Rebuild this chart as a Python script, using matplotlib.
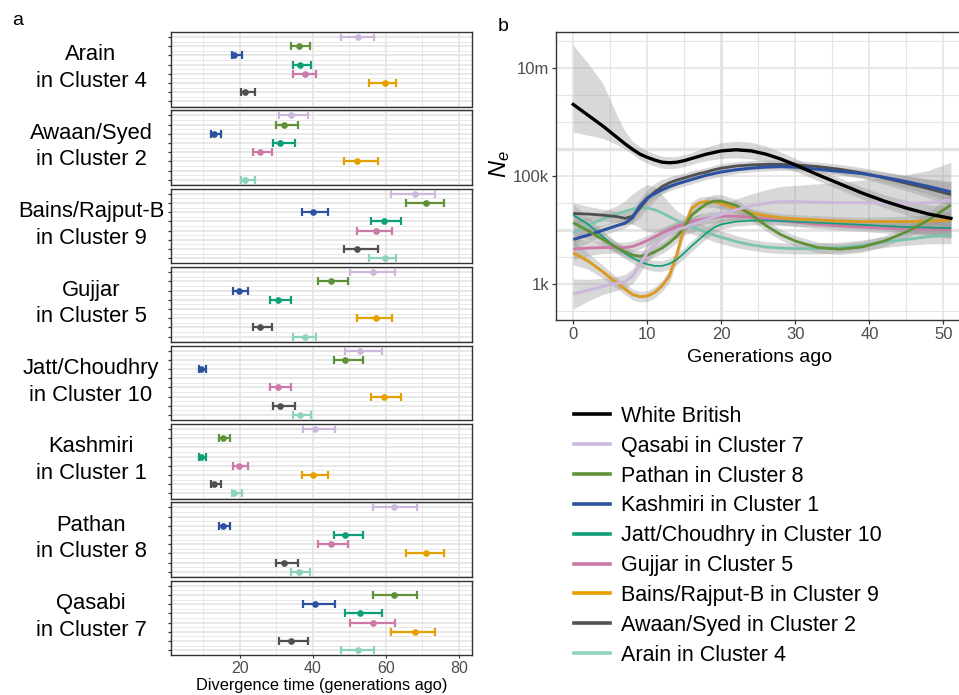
import numpy as np
import matplotlib
matplotlib.use("Agg")
import matplotlib.pyplot as plt
from matplotlib.lines import Line2D
from matplotlib.ticker import FixedLocator, NullFormatter

plt.rcParams['font.family'] = ['Liberation Sans', 'DejaVu Sans']
plt.rcParams['mathtext.fontset'] = 'custom'
plt.rcParams['mathtext.it'] = 'Liberation Sans:italic'
plt.rcParams['mathtext.rm'] = 'Liberation Sans'

W, H = 959, 695

# ---------------- panel a data ----------------
GROUPS = ['Qasabi', 'Pathan', 'Kashmiri', 'Jatt/Choudhry', 'Gujjar',
          'Bains/Rajput-B', 'Awaan/Syed', 'Arain']
CLUSTERS = [7, 8, 1, 10, 5, 9, 2, 4]
GROUP_COLORS = ['#CDB8DB', '#5F9139', '#2C51A1', '#0E9E78', '#CC79A7',
                '#E69F00', '#505050', '#8ED2BD']
FACETS = ['Arain', 'Awaan/Syed', 'Bains/Rajput-B', 'Gujjar', 'Jatt/Choudhry',
          'Kashmiri', 'Pathan', 'Qasabi']

PAIR_A = ['Qasabi'] * 7 + ['Pathan'] * 6 + ['Kashmiri'] * 5 + \
         ['Jatt/Choudhry'] * 4 + ['Gujjar'] * 3 + ['Bains/Rajput-B'] * 2 + ['Awaan/Syed']
PAIR_B = ['Pathan', 'Kashmiri', 'Jatt/Choudhry', 'Gujjar', 'Bains/Rajput-B', 'Awaan/Syed', 'Arain',
          'Kashmiri', 'Jatt/Choudhry', 'Gujjar', 'Bains/Rajput-B', 'Awaan/Syed', 'Arain',
          'Jatt/Choudhry', 'Gujjar', 'Bains/Rajput-B', 'Awaan/Syed', 'Arain',
          'Gujjar', 'Bains/Rajput-B', 'Awaan/Syed', 'Arain',
          'Bains/Rajput-B', 'Awaan/Syed', 'Arain',
          'Awaan/Syed', 'Arain',
          'Arain']
DIV_EST = [62.2, 40.7, 53.0, 56.4, 68.1, 33.9, 52.4,
           15.4, 48.8, 44.9, 71.1, 32.0, 36.1,
           9.4, 19.7, 39.9, 12.8, 18.5,
           30.5, 59.5, 30.9, 36.5,
           57.2, 25.4, 37.7,
           52.1, 59.7,
           21.5]
DIV_LO = [56.6, 37.4, 48.8, 50.2, 61.4, 30.8, 47.8,
          14.3, 45.8, 41.3, 65.5, 29.9, 33.9,
          8.7, 18.2, 37.1, 12.0, 17.7,
          28.3, 55.8, 29.1, 34.6,
          52.2, 23.5, 34.6,
          48.4, 55.5,
          20.2]
DIV_HI = [68.4, 46.1, 59.0, 62.5, 73.4, 38.7, 56.8,
          17.4, 53.8, 49.5, 75.9, 36.0, 39.1,
          10.6, 22.3, 44.0, 14.9, 20.6,
          34.1, 64.2, 35.1, 39.5,
          61.7, 28.9, 40.8,
          57.9, 62.7,
          24.2]

# ---------------- panel b data (log10 Ne) ----------------
GEN = [0, 2, 4, 6, 7, 8, 9, 10, 11, 12, 13, 14, 15, 16, 17, 18, 19, 20,
       22, 24, 26, 28, 30, 33, 36, 39, 42, 45, 48, 51]

NE_WB = [6.32, 6.12, 5.92, 5.70, 5.59, 5.49, 5.40, 5.34, 5.29, 5.25, 5.24, 5.25, 5.28, 5.32, 5.36,
         5.40, 5.43, 5.46, 5.48, 5.46, 5.40, 5.31, 5.20, 5.02, 4.85, 4.68, 4.53, 4.40, 4.29, 4.21]
NE_WB_HI = [7.42, 7.08, 6.71, 6.09, 5.82, 5.64, 5.53, 5.46, 5.40, 5.36, 5.35, 5.36, 5.39, 5.43, 5.48,
            5.53, 5.57, 5.61, 5.64, 5.62, 5.55, 5.44, 5.32, 5.13, 4.96, 4.79, 4.65, 4.54, 4.46, 4.42]
NE_WB_LO = [5.81, 5.75, 5.69, 5.57, 5.49, 5.40, 5.30, 5.23, 5.18, 5.14, 5.13, 5.14, 5.17, 5.21, 5.25,
            5.28, 5.30, 5.32, 5.33, 5.31, 5.26, 5.18, 5.08, 4.91, 4.74, 4.57, 4.41, 4.27, 4.14, 4.02]

NE_QASABI = [2.81, 2.88, 2.95, 3.01, 3.04, 3.14, 3.35, 3.58, 3.72, 3.84, 3.93, 3.99, 4.04, 4.09, 4.14,
             4.19, 4.24, 4.28, 4.37, 4.44, 4.49, 4.52, 4.52, 4.51, 4.50, 4.50, 4.49, 4.49, 4.50, 4.55]
NE_PATHAN = [4.13, 3.98, 3.82, 3.66, 3.59, 3.53, 3.51, 3.53, 3.59, 3.66, 3.76, 3.88, 4.05, 4.27, 4.38,
             4.48, 4.53, 4.53, 4.45, 4.28, 4.08, 3.91, 3.79, 3.67, 3.64, 3.68, 3.79, 3.96, 4.18, 4.46]
NE_KASHMIRI = [3.82, 3.90, 3.99, 4.08, 4.12, 4.22, 4.44, 4.59, 4.67, 4.74, 4.80, 4.85, 4.89, 4.93, 4.97,
               5.01, 5.04, 5.07, 5.11, 5.14, 5.16, 5.17, 5.16, 5.12, 5.08, 5.04, 4.97, 4.89, 4.80, 4.70]
NE_JATT = [4.27, 4.10, 3.87, 3.65, 3.56, 3.48, 3.41, 3.36, 3.33, 3.33, 3.37, 3.45, 3.57, 3.70, 3.82,
           3.94, 4.04, 4.10, 4.15, 4.17, 4.17, 4.16, 4.15, 4.13, 4.11, 4.09, 4.07, 4.05, 4.04, 4.03]
NE_GUJJAR = [3.64, 3.66, 3.67, 3.67, 3.67, 3.69, 3.74, 3.80, 3.87, 3.94, 4.00, 4.06, 4.11, 4.15, 4.18,
             4.21, 4.23, 4.25, 4.25, 4.23, 4.20, 4.17, 4.14, 4.10, 4.07, 4.05, 4.03, 4.02, 4.01, 4.00]
NE_BAINS = [3.57, 3.42, 3.22, 3.00, 2.90, 2.80, 2.76, 2.77, 2.84, 2.96, 3.15, 3.55, 4.05, 4.40, 4.50,
            4.52, 4.51, 4.48, 4.39, 4.31, 4.26, 4.22, 4.20, 4.18, 4.16, 4.15, 4.15, 4.15, 4.16, 4.18]
NE_AWAAN = [4.30, 4.29, 4.27, 4.24, 4.21, 4.25, 4.40, 4.57, 4.70, 4.80, 4.87, 4.92, 4.96, 5.00, 5.04,
            5.07, 5.11, 5.14, 5.18, 5.20, 5.21, 5.21, 5.20, 5.17, 5.12, 5.05, 4.96, 4.86, 4.76, 4.65]
NE_ARAIN = [3.94, 4.08, 4.20, 4.30, 4.34, 4.38, 4.40, 4.40, 4.37, 4.31, 4.24, 4.17, 4.11, 4.05, 4.00,
            3.95, 3.90, 3.86, 3.78, 3.72, 3.68, 3.66, 3.65, 3.65, 3.67, 3.71, 3.77, 3.82, 3.87, 3.90]

# half widths of the grey confidence ribbons (decades)
HW_QASABI = [0.28, 0.20, 0.15, 0.13, 0.13, 0.14, 0.16, 0.17, 0.17, 0.16, 0.15, 0.14, 0.14, 0.14, 0.15,
             0.16, 0.17, 0.18, 0.20, 0.22, 0.25, 0.28, 0.30, 0.34, 0.38, 0.42, 0.47, 0.53, 0.60, 0.70]
HW_PATHAN = [0.22, 0.16, 0.12, 0.10, 0.10, 0.10, 0.10, 0.10, 0.10, 0.10, 0.11, 0.12, 0.12, 0.12, 0.12,
             0.12, 0.12, 0.12, 0.11, 0.10, 0.10, 0.10, 0.10, 0.10, 0.10, 0.10, 0.10, 0.11, 0.14, 0.22]
HW_KASHMIRI = [0.20, 0.14, 0.10, 0.09, 0.09, 0.09, 0.09, 0.09, 0.08, 0.08, 0.08, 0.08, 0.08, 0.08, 0.08,
               0.08, 0.08, 0.08, 0.07, 0.07, 0.07, 0.07, 0.07, 0.07, 0.07, 0.08, 0.09, 0.11, 0.14, 0.20]
HW_JATT = [0.20, 0.14, 0.11, 0.10, 0.10, 0.10, 0.10, 0.10, 0.10, 0.10, 0.10, 0.10, 0.10, 0.10, 0.10,
           0.10, 0.10, 0.09, 0.08, 0.08, 0.08, 0.08, 0.08, 0.08, 0.08, 0.08, 0.09, 0.10, 0.12, 0.16]
HW_GUJJAR = [0.20, 0.14, 0.11, 0.10, 0.10, 0.10, 0.10, 0.10, 0.10, 0.10, 0.10, 0.10, 0.10, 0.10, 0.10,
             0.10, 0.10, 0.09, 0.08, 0.08, 0.08, 0.08, 0.08, 0.08, 0.08, 0.08, 0.09, 0.10, 0.12, 0.16]
HW_BAINS = [0.22, 0.15, 0.12, 0.10, 0.10, 0.10, 0.10, 0.10, 0.10, 0.10, 0.12, 0.14, 0.14, 0.12, 0.10,
            0.10, 0.10, 0.10, 0.09, 0.08, 0.08, 0.08, 0.08, 0.08, 0.08, 0.08, 0.09, 0.10, 0.12, 0.16]
HW_AWAAN = [0.20, 0.14, 0.11, 0.10, 0.11, 0.14, 0.17, 0.18, 0.16, 0.13, 0.11, 0.10, 0.09, 0.09, 0.08,
            0.08, 0.08, 0.08, 0.08, 0.08, 0.08, 0.08, 0.08, 0.08, 0.09, 0.10, 0.12, 0.14, 0.17, 0.22]
HW_ARAIN = [0.22, 0.16, 0.13, 0.15, 0.20, 0.28, 0.36, 0.44, 0.42, 0.34, 0.25, 0.18, 0.15, 0.13, 0.12,
            0.12, 0.12, 0.12, 0.11, 0.10, 0.10, 0.10, 0.10, 0.10, 0.10, 0.10, 0.10, 0.11, 0.13, 0.16]

LEGEND_LABELS = ['White British', 'Qasabi in Cluster 7', 'Pathan in Cluster 8', 'Kashmiri in Cluster 1',
                 'Jatt/Choudhry in Cluster 10', 'Gujjar in Cluster 5', 'Bains/Rajput-B in Cluster 9',
                 'Awaan/Syed in Cluster 2', 'Arain in Cluster 4']
Y_TICKS = [1e3, 1e5, 1e7]
Y_TICK_LABELS = ['1k', '100k', '10m']

GRID = '#E4E4E4'
TICKC = '#4D4D4D'

fig = plt.figure(figsize=(W / 100, H / 100), dpi=100)


def fx(px):
    return px / W


def fy(py):
    return 1 - py / H


# ---------------- panel a ----------------
A_LEFT, A_RIGHT = 171, 472
A_TOP0, A_H, A_PITCH = 32, 74.5, 78.4
for k, facet in enumerate(FACETS):
    top = A_TOP0 + k * A_PITCH
    ax = fig.add_axes([fx(A_LEFT), fy(top + A_H), (A_RIGHT - A_LEFT) / W, A_H / H])
    for gi, g in enumerate(GROUPS):
        if g == facet:
            continue
        for a, b, e, lo, hi in zip(PAIR_A, PAIR_B, DIV_EST, DIV_LO, DIV_HI):
            if (a == facet and b == g) or (a == g and b == facet):
                ax.errorbar([e], [gi + 1], xerr=[[e - lo], [hi - e]], fmt='o',
                            color=GROUP_COLORS[gi], ms=3.8, elinewidth=1.6,
                            capsize=3.2, capthick=1.6, zorder=3)
    ax.set_xlim(1.1, 83.6)
    ax.set_ylim(8.55, 0.45)
    ax.xaxis.set_major_locator(FixedLocator([20, 40, 60, 80]))
    ax.xaxis.set_minor_locator(FixedLocator([10, 30, 50, 70]))
    ax.yaxis.set_major_locator(FixedLocator(list(range(1, 9))))
    ax.yaxis.set_minor_locator(FixedLocator([i + 0.5 for i in range(0, 9)]))
    ax.set_yticklabels([])
    ax.grid(which='major', color=GRID, lw=1.2)
    ax.grid(which='minor', color=GRID, lw=0.6)
    ax.set_axisbelow(True)
    for s in ax.spines.values():
        s.set_color('#333333')
        s.set_linewidth(1.0)
    ax.tick_params(axis='y', which='major', length=2, width=0.9, color='#333333')
    ax.tick_params(which='minor', length=0)
    if k < len(FACETS) - 1:
        ax.tick_params(axis='x', which='major', length=0, labelbottom=False)
    else:
        ax.tick_params(axis='x', which='major', length=2.5, width=0.8, color='#333333',
                       labelsize=11.5, labelcolor=TICKC, pad=1.5)
        ax.set_xlabel('Divergence time (generations ago)', fontsize=11.8, labelpad=1.5)
    ci = GROUPS.index(facet)
    fig.text(fx(91), fy(top + A_H / 2 - 1), f"{facet}\nin Cluster {CLUSTERS[ci]}",
             ha='center', va='center', fontsize=15.8, linespacing=1.35)

fig.text(fx(12), fy(25), 'a', fontsize=14)
fig.text(fx(498), fy(31), 'b', fontsize=14)

# ---------------- panel b ----------------
axb = fig.add_axes([fx(556.3), fy(320), (962 - 556.3) / W, (320 - 31.7) / H])
axb.set_yscale('log')
axb.set_xlim(-2.29, 52.5)
axb.set_ylim(10 ** 2.328, 10 ** 7.667)

gen = np.array(GEN, dtype=float)
series = [
    ('Qasabi', NE_QASABI, HW_QASABI, GROUP_COLORS[0], 2.1),
    ('Pathan', NE_PATHAN, HW_PATHAN, GROUP_COLORS[1], 2.0),
    ('Kashmiri', NE_KASHMIRI, HW_KASHMIRI, GROUP_COLORS[2], 2.2),
    ('Jatt', NE_JATT, HW_JATT, GROUP_COLORS[3], 1.2),
    ('Gujjar', NE_GUJJAR, HW_GUJJAR, GROUP_COLORS[4], 2.0),
    ('Bains', NE_BAINS, HW_BAINS, '#DB9A22', 2.1),
    ('Awaan', NE_AWAAN, HW_AWAAN, GROUP_COLORS[6], 2.0),
    ('Arain', NE_ARAIN, HW_ARAIN, '#7CC4AE', 2.0),
]

axb.fill_between(gen, 10 ** np.array(NE_WB_LO), 10 ** np.array(NE_WB_HI),
                 color='#999999', alpha=0.38, lw=0, zorder=2)
for name, vals, hw, col, lw in series:
    v = np.array(vals)
    h = np.array(hw)
    axb.fill_between(gen, 10 ** (v - h), 10 ** (v + h), color='#999999', alpha=0.38,
                     lw=0, zorder=2)
for name, vals, hw, col, lw in reversed(series):
    axb.plot(gen, 10 ** np.array(vals), color=col, lw=lw, zorder=3,
             solid_capstyle='butt')
axb.plot(gen, 10 ** np.array(NE_WB), color='black', lw=2.4, zorder=3.5)

axb.xaxis.set_major_locator(FixedLocator([0, 10, 20, 30, 40, 50]))
axb.xaxis.set_minor_locator(FixedLocator([5, 15, 25, 35, 45]))
axb.yaxis.set_major_locator(FixedLocator(Y_TICKS))
axb.set_yticklabels(Y_TICK_LABELS)
axb.yaxis.set_minor_locator(FixedLocator([10 ** e for e in [2.5, 3.5, 4.0, 4.5, 5.5, 6.0, 6.5, 7.5]]))
axb.yaxis.set_minor_formatter(NullFormatter())
axb.grid(which='major', color=GRID, lw=1.2)
axb.grid(which='minor', color=GRID, lw=0.8)
axb.axhline(10 ** 5.5, color=GRID, lw=2.4, zorder=0.6)
axb.axhline(10 ** 4.0, color=GRID, lw=2.0, zorder=0.6)
axb.axvline(20, color=GRID, lw=2.2, zorder=0.6)
axb.set_axisbelow(True)
for s in axb.spines.values():
    s.set_color('#333333')
    s.set_linewidth(1.0)
axb.tick_params(which='major', length=3, width=0.9, color='#333333', labelsize=12,
                labelcolor=TICKC, pad=2)
axb.tick_params(which='minor', length=0)
axb.set_xlabel('Generations ago', fontsize=14, labelpad=5)
axb.set_ylabel(r'$N_e$', fontsize=17)
axb.yaxis.set_label_coords(-0.108, 0.54)

# legend
legend_colors = ['black'] + GROUP_COLORS
handles = [Line2D([], [], color=c, lw=2.6) for c in legend_colors]
fig.legend(handles, LEGEND_LABELS, loc='upper left', bbox_to_anchor=(fx(574), fy(406)),
           frameon=False, fontsize=15.5, handlelength=1.67, handletextpad=0.5,
           labelspacing=0.41, borderpad=0, borderaxespad=0)

fig.savefig('out.png', dpi=100)
